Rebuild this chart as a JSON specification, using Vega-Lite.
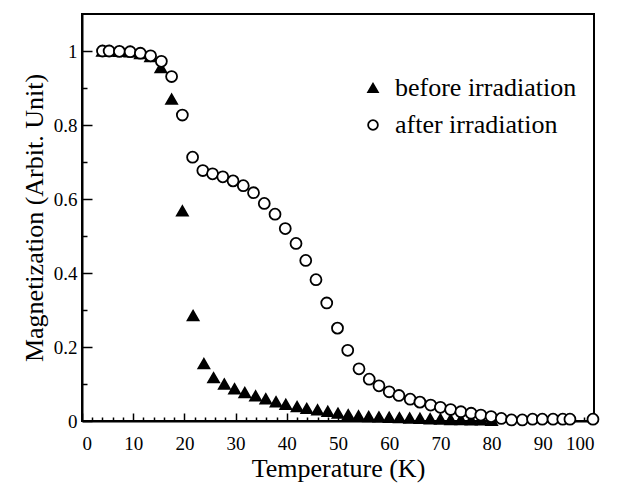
{
  "$schema": "https://vega.github.io/schema/vega-lite/v6.json",
  "width": 512,
  "height": 407,
  "autosize": "none",
  "padding": {"left": 82, "top": 14, "right": 27, "bottom": 64},
  "background": "white",
  "config": {
    "view": {"stroke": "black", "strokeWidth": 2},
    "axis": {
      "domainColor": "black", "domainWidth": 2, "tickColor": "black", "tickWidth": 1.5,
      "labelFont": "Liberation Serif", "labelFontSize": 19, "labelColor": "black",
      "titleFont": "Liberation Serif", "titleFontSize": 26, "titleFontWeight": "normal", "titleColor": "black",
      "grid": false
    },
    "legend": {
      "labelFont": "Liberation Serif", "labelFontSize": 26, "labelColor": "black", "labelLimit": 400
    }
  },
  "data": {
    "values": [
      {"T": 4, "M": 1.0, "series": "before irradiation"},
      {"T": 5.3, "M": 1.0, "series": "before irradiation"},
      {"T": 7.3, "M": 0.999, "series": "before irradiation"},
      {"T": 9.4, "M": 0.998, "series": "before irradiation"},
      {"T": 11.4, "M": 0.993, "series": "before irradiation"},
      {"T": 13.4, "M": 0.985, "series": "before irradiation"},
      {"T": 15.4, "M": 0.955, "series": "before irradiation"},
      {"T": 17.5, "M": 0.87, "series": "before irradiation"},
      {"T": 19.6, "M": 0.568, "series": "before irradiation"},
      {"T": 21.7, "M": 0.285, "series": "before irradiation"},
      {"T": 23.8, "M": 0.155, "series": "before irradiation"},
      {"T": 25.7, "M": 0.117, "series": "before irradiation"},
      {"T": 27.8, "M": 0.1, "series": "before irradiation"},
      {"T": 29.8, "M": 0.087, "series": "before irradiation"},
      {"T": 31.8, "M": 0.077, "series": "before irradiation"},
      {"T": 33.9, "M": 0.068, "series": "before irradiation"},
      {"T": 35.9, "M": 0.06, "series": "before irradiation"},
      {"T": 37.9, "M": 0.052, "series": "before irradiation"},
      {"T": 39.8, "M": 0.045, "series": "before irradiation"},
      {"T": 42, "M": 0.039, "series": "before irradiation"},
      {"T": 43.9, "M": 0.034, "series": "before irradiation"},
      {"T": 46, "M": 0.03, "series": "before irradiation"},
      {"T": 48, "M": 0.026, "series": "before irradiation"},
      {"T": 50, "M": 0.021, "series": "before irradiation"},
      {"T": 52, "M": 0.017, "series": "before irradiation"},
      {"T": 54, "M": 0.014, "series": "before irradiation"},
      {"T": 56, "M": 0.012, "series": "before irradiation"},
      {"T": 58, "M": 0.011, "series": "before irradiation"},
      {"T": 60, "M": 0.01, "series": "before irradiation"},
      {"T": 62, "M": 0.009, "series": "before irradiation"},
      {"T": 64, "M": 0.008, "series": "before irradiation"},
      {"T": 66, "M": 0.007, "series": "before irradiation"},
      {"T": 68, "M": 0.006, "series": "before irradiation"},
      {"T": 70, "M": 0.005, "series": "before irradiation"},
      {"T": 72, "M": 0.004, "series": "before irradiation"},
      {"T": 74, "M": 0.004, "series": "before irradiation"},
      {"T": 76, "M": 0.003, "series": "before irradiation"},
      {"T": 78, "M": 0.003, "series": "before irradiation"},
      {"T": 80, "M": 0.002, "series": "before irradiation"},
      {"T": 4, "M": 1.0, "series": "after irradiation"},
      {"T": 5.3, "M": 1.0, "series": "after irradiation"},
      {"T": 7.3, "M": 0.999, "series": "after irradiation"},
      {"T": 9.4, "M": 0.998, "series": "after irradiation"},
      {"T": 11.4, "M": 0.994, "series": "after irradiation"},
      {"T": 13.4, "M": 0.987, "series": "after irradiation"},
      {"T": 15.5, "M": 0.972, "series": "after irradiation"},
      {"T": 17.5, "M": 0.931, "series": "after irradiation"},
      {"T": 19.6, "M": 0.827, "series": "after irradiation"},
      {"T": 21.6, "M": 0.713, "series": "after irradiation"},
      {"T": 23.6, "M": 0.677, "series": "after irradiation"},
      {"T": 25.5, "M": 0.668, "series": "after irradiation"},
      {"T": 27.5, "M": 0.66, "series": "after irradiation"},
      {"T": 29.5, "M": 0.649, "series": "after irradiation"},
      {"T": 31.5, "M": 0.636, "series": "after irradiation"},
      {"T": 33.5, "M": 0.617, "series": "after irradiation"},
      {"T": 35.6, "M": 0.588, "series": "after irradiation"},
      {"T": 37.7, "M": 0.559, "series": "after irradiation"},
      {"T": 39.7, "M": 0.52, "series": "after irradiation"},
      {"T": 41.8, "M": 0.48, "series": "after irradiation"},
      {"T": 43.7, "M": 0.434, "series": "after irradiation"},
      {"T": 45.7, "M": 0.382, "series": "after irradiation"},
      {"T": 47.8, "M": 0.319, "series": "after irradiation"},
      {"T": 49.9, "M": 0.251, "series": "after irradiation"},
      {"T": 51.9, "M": 0.191, "series": "after irradiation"},
      {"T": 54.1, "M": 0.141, "series": "after irradiation"},
      {"T": 56.1, "M": 0.113, "series": "after irradiation"},
      {"T": 58, "M": 0.095, "series": "after irradiation"},
      {"T": 60, "M": 0.079, "series": "after irradiation"},
      {"T": 61.9, "M": 0.069, "series": "after irradiation"},
      {"T": 64.1, "M": 0.059, "series": "after irradiation"},
      {"T": 66, "M": 0.051, "series": "after irradiation"},
      {"T": 68.1, "M": 0.043, "series": "after irradiation"},
      {"T": 70, "M": 0.037, "series": "after irradiation"},
      {"T": 72, "M": 0.031, "series": "after irradiation"},
      {"T": 74, "M": 0.025, "series": "after irradiation"},
      {"T": 76, "M": 0.021, "series": "after irradiation"},
      {"T": 77.9, "M": 0.016, "series": "after irradiation"},
      {"T": 79.9, "M": 0.012, "series": "after irradiation"},
      {"T": 81.9, "M": 0.007, "series": "after irradiation"},
      {"T": 83.9, "M": 0.003, "series": "after irradiation"},
      {"T": 86, "M": 0.003, "series": "after irradiation"},
      {"T": 88, "M": 0.005, "series": "after irradiation"},
      {"T": 89.9, "M": 0.005, "series": "after irradiation"},
      {"T": 92, "M": 0.005, "series": "after irradiation"},
      {"T": 93.9, "M": 0.005, "series": "after irradiation"},
      {"T": 95.3, "M": 0.005, "series": "after irradiation"},
      {"T": 99.8, "M": 0.005, "series": "after irradiation"}
    ]
  },
  "layer": [
    {
      "mark": {"type": "point", "opacity": 0},
      "encoding": {
        "x": {"field": "T", "type": "quantitative", "scale": {"domain": [0, 100], "nice": false},
          "axis": {"orient": "bottom", "values": [2,4,6,8,12,14,16,18,22,24,26,28,32,34,36,38,42,44,46,48,52,54,56,58,62,64,66,68,72,74,76,78,82,84,86,88,92,94,96,98], "labels": false, "title": null, "domain": false, "tickSize": -4}},
        "y": {"field": "M", "type": "quantitative", "scale": {"domain": [0, 1.1], "nice": false},
          "axis": {"orient": "left", "values": [0.1, 0.3, 0.5, 0.7, 0.9], "labels": false, "title": null, "domain": false, "tickSize": -5}}
      }
    },
    {
      "mark": {"type": "point", "filled": false, "strokeWidth": 1.8, "opacity": 1},
      "encoding": {
        "x": {"field": "T", "type": "quantitative", "scale": {"domain": [0, 100], "nice": false},
          "axis": {"orient": "bottom", "values": [0,10,20,30,40,50,60,70,80,90,100], "title": "Temperature (K)", "tickSize": -8, "labelPadding": 21, "titlePadding": 2}},
        "y": {"field": "M", "type": "quantitative", "scale": {"domain": [0, 1.1], "nice": false},
          "axis": {"orient": "left", "values": [0, 0.2, 0.4, 0.6, 0.8, 1], "format": "~g", "title": "Magnetization (Arbit. Unit)", "tickSize": -10, "labelPadding": 15, "titlePadding": 6}},
        "shape": {"field": "series", "type": "nominal", "sort": ["before irradiation", "after irradiation"],
          "scale": {"domain": ["before irradiation", "after irradiation"], "range": ["triangle-up", "circle"]},
          "legend": {"title": null, "orient": "none", "legendX": 278, "legendY": 61, "padding": 0, "symbolSize": 95, "symbolStrokeWidth": 1.8, "rowPadding": 11, "labelOffset": 9}},
        "fill": {"field": "series", "type": "nominal", "sort": ["before irradiation", "after irradiation"],
          "scale": {"domain": ["before irradiation", "after irradiation"], "range": ["black", "white"]},
          "legend": {"title": null, "orient": "none", "legendX": 278, "legendY": 61, "padding": 0, "symbolSize": 95, "symbolStrokeWidth": 1.8, "rowPadding": 11, "labelOffset": 9}},
        "stroke": {"field": "series", "type": "nominal", "sort": ["before irradiation", "after irradiation"],
          "scale": {"domain": ["before irradiation", "after irradiation"], "range": ["black", "black"]},
          "legend": {"title": null, "orient": "none", "legendX": 278, "legendY": 61, "padding": 0, "symbolSize": 95, "symbolStrokeWidth": 1.8, "rowPadding": 11, "labelOffset": 9}},
        "size": {"value": 120}
      }
    }
  ],
  "resolve": {"axis": {"x": "independent", "y": "independent"}}
}
